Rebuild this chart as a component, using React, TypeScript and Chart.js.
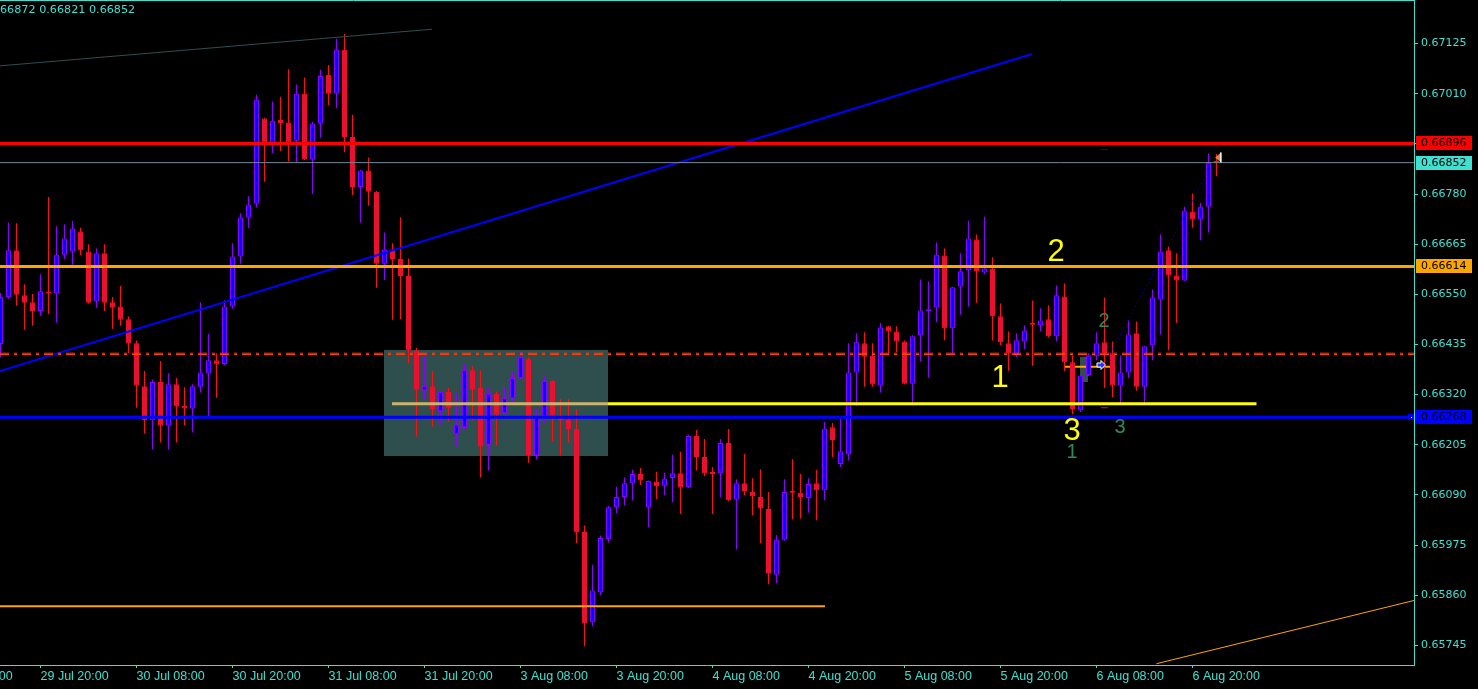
import React, { useEffect, useRef } from 'react';
import { Chart, registerables } from 'chart.js';

Chart.register(...registerables);

// ---- H1 candles, index 0..152 (oldest -> newest) ----
const opens = [
  0.66436, 0.66544, 0.66651, 0.66548, 0.66532, 0.66512, 0.66553, 0.66552, 0.66641, 0.66648,
  0.66694, 0.66648, 0.66534, 0.66644, 0.66532, 0.66522, 0.66493, 0.66438, 0.66339, 0.66261,
  0.66349, 0.66249, 0.66344, 0.66294, 0.66288, 0.66338, 0.66369, 0.66399, 0.66390, 0.66522,
  0.66637, 0.66726, 0.66758, 0.66953, 0.66898, 0.66950, 0.66944, 0.66902, 0.67010, 0.66859,
  0.66941, 0.67053, 0.67010, 0.67111, 0.66911, 0.66796, 0.66834, 0.66785, 0.66620, 0.66653,
  0.66631, 0.66592, 0.66421, 0.66330, 0.66339, 0.66282, 0.66326, 0.66229, 0.66245, 0.66376,
  0.66335, 0.66205, 0.66322, 0.66278, 0.66312, 0.66358, 0.66401, 0.66181, 0.66270, 0.66351,
  0.66265, 0.66262, 0.66241, 0.66005, 0.65798, 0.65867, 0.65989, 0.66062, 0.66085, 0.66117,
  0.66138, 0.66062, 0.66120, 0.66111, 0.66129, 0.66140, 0.66108, 0.66225, 0.66177, 0.66140,
  0.66140, 0.66209, 0.66079, 0.66117, 0.66097, 0.66085, 0.66058, 0.65907, 0.65987, 0.66099,
  0.66095, 0.66083, 0.66117, 0.66101, 0.66245, 0.66161, 0.66183, 0.66371, 0.66438, 0.66410,
  0.66341, 0.66477, 0.66465, 0.66442, 0.66345, 0.66456, 0.66511, 0.66520, 0.66639, 0.66472,
  0.66568, 0.66605, 0.66676, 0.66600, 0.66609, 0.66500, 0.66438, 0.66413, 0.66442, 0.66482,
  0.66479, 0.66493, 0.66454, 0.66545, 0.66394, 0.66284, 0.66365, 0.66408, 0.66440, 0.66415,
  0.66341, 0.66371, 0.66461, 0.66338, 0.66433, 0.66538, 0.66651, 0.66593, 0.66582, 0.66740,
  0.66722, 0.66751, 0.66856,
];
const highs = [
  0.66553, 0.66715, 0.66713, 0.66573, 0.66551, 0.66596, 0.66773, 0.66706, 0.66711, 0.66718,
  0.66703, 0.66665, 0.66655, 0.66665, 0.66544, 0.66569, 0.66499, 0.66444, 0.66374, 0.66355,
  0.66397, 0.66369, 0.66358, 0.66337, 0.66344, 0.66532, 0.66459, 0.66415, 0.66536, 0.66667,
  0.66736, 0.66775, 0.67008, 0.66955, 0.66992, 0.67003, 0.67066, 0.67031, 0.67047, 0.66946,
  0.67065, 0.67076, 0.67136, 0.67147, 0.66962, 0.66835, 0.66864, 0.66787, 0.66692, 0.66667,
  0.66727, 0.66632, 0.66427, 0.66415, 0.66374, 0.66327, 0.66335, 0.66323, 0.66392, 0.66385,
  0.66376, 0.66336, 0.66327, 0.66336, 0.66374, 0.66419, 0.66406, 0.66288, 0.66362, 0.66353,
  0.66310, 0.66310, 0.66287, 0.66020, 0.65930, 0.65997, 0.66065, 0.66109, 0.66130, 0.66148,
  0.66152, 0.66123, 0.66143, 0.66141, 0.66182, 0.66189, 0.66228, 0.66239, 0.66218, 0.66154,
  0.66218, 0.66241, 0.66126, 0.66184, 0.66128, 0.66149, 0.66097, 0.65998, 0.66126, 0.66172,
  0.66138, 0.66128, 0.66147, 0.66257, 0.66255, 0.66264, 0.66438, 0.66461, 0.66463, 0.66438,
  0.66484, 0.66478, 0.66477, 0.66444, 0.66456, 0.66584, 0.66580, 0.66669, 0.66655, 0.66567,
  0.66644, 0.66719, 0.66687, 0.66728, 0.66635, 0.66529, 0.66465, 0.66461, 0.66479, 0.66536,
  0.66518, 0.66525, 0.66570, 0.66575, 0.66410, 0.66365, 0.66415, 0.66463, 0.66543, 0.66442,
  0.66410, 0.66490, 0.66488, 0.66432, 0.66561, 0.66687, 0.66660, 0.66644, 0.66751, 0.66781,
  0.66760, 0.66873, 0.66872,
];
const lows = [
  0.66405, 0.66540, 0.66524, 0.66469, 0.66478, 0.66501, 0.66505, 0.66485, 0.66631, 0.66618,
  0.66640, 0.66529, 0.66519, 0.66512, 0.66471, 0.66478, 0.66415, 0.66290, 0.66231, 0.66194,
  0.66210, 0.66194, 0.66210, 0.66249, 0.66233, 0.66325, 0.66270, 0.66313, 0.66388, 0.66517,
  0.66620, 0.66702, 0.66749, 0.66808, 0.66874, 0.66879, 0.66855, 0.66853, 0.66858, 0.66780,
  0.66909, 0.66984, 0.66977, 0.66876, 0.66778, 0.66715, 0.66753, 0.66565, 0.66583, 0.66492,
  0.66493, 0.66392, 0.66224, 0.66310, 0.66247, 0.66251, 0.66258, 0.66201, 0.66241, 0.66261,
  0.66130, 0.66146, 0.66203, 0.66276, 0.66295, 0.66356, 0.66164, 0.66172, 0.66256, 0.66213,
  0.66181, 0.66210, 0.65979, 0.65743, 0.65789, 0.65860, 0.65981, 0.66048, 0.66066, 0.66077,
  0.66113, 0.66016, 0.66080, 0.66089, 0.66073, 0.66046, 0.66106, 0.66146, 0.66133, 0.66046,
  0.66085, 0.66076, 0.65965, 0.66090, 0.66043, 0.65979, 0.65885, 0.65888, 0.65985, 0.66034,
  0.66036, 0.66049, 0.66032, 0.66078, 0.66177, 0.66154, 0.66169, 0.66295, 0.66338, 0.66338,
  0.66325, 0.66415, 0.66417, 0.66343, 0.66295, 0.66396, 0.66359, 0.66486, 0.66445, 0.66415,
  0.66503, 0.66522, 0.66531, 0.66596, 0.66444, 0.66433, 0.66375, 0.66406, 0.66424, 0.66386,
  0.66465, 0.66451, 0.66442, 0.66374, 0.66275, 0.66280, 0.66363, 0.66399, 0.66335, 0.66314,
  0.66300, 0.66358, 0.66329, 0.66296, 0.66399, 0.66458, 0.66422, 0.66484, 0.66580, 0.66703,
  0.66674, 0.66692, 0.66821,
];
const closes = [
  0.66544, 0.66651, 0.66549, 0.66531, 0.66512, 0.66557, 0.66552, 0.66641, 0.66678, 0.66701,
  0.66651, 0.66531, 0.66644, 0.66531, 0.66519, 0.66492, 0.66438, 0.66341, 0.66261, 0.66349,
  0.66249, 0.66344, 0.66293, 0.66288, 0.66339, 0.66371, 0.66399, 0.66389, 0.66522, 0.66637,
  0.66726, 0.66756, 0.66996, 0.66898, 0.66948, 0.66943, 0.66898, 0.67010, 0.66860, 0.66941,
  0.67051, 0.67010, 0.67111, 0.66911, 0.66796, 0.66834, 0.66785, 0.66620, 0.66653, 0.66631,
  0.66592, 0.66421, 0.66332, 0.66339, 0.66287, 0.66326, 0.66289, 0.66251, 0.66376, 0.66332,
  0.66201, 0.66322, 0.66274, 0.66312, 0.66358, 0.66406, 0.66181, 0.66270, 0.66351, 0.66272,
  0.66261, 0.66241, 0.66004, 0.65796, 0.65871, 0.65991, 0.66062, 0.66085, 0.66117, 0.66138,
  0.66123, 0.66122, 0.66110, 0.66127, 0.66140, 0.66107, 0.66225, 0.66177, 0.66140, 0.66138,
  0.66209, 0.66078, 0.66117, 0.66099, 0.66087, 0.66059, 0.65909, 0.65987, 0.66097, 0.66095,
  0.66085, 0.66115, 0.66101, 0.66242, 0.66216, 0.66190, 0.66371, 0.66440, 0.66407, 0.66343,
  0.66474, 0.66465, 0.66442, 0.66345, 0.66454, 0.66513, 0.66516, 0.66641, 0.66472, 0.66566,
  0.66603, 0.66678, 0.66603, 0.66609, 0.66500, 0.66440, 0.66415, 0.66445, 0.66467, 0.66480,
  0.66490, 0.66454, 0.66548, 0.66394, 0.66287, 0.66364, 0.66410, 0.66438, 0.66415, 0.66341,
  0.66371, 0.66458, 0.66338, 0.66431, 0.66543, 0.66648, 0.66593, 0.66582, 0.66742, 0.66722,
  0.66751, 0.66852, 0.66852,
];

// ---- axis ticks ----
const xTickPos = [5, 17, 29, 41, 53, 65, 77, 89, 101, 113, 125, 137, 149];
const xTickLabels = [
  '29 Jul 20:00', '30 Jul 08:00', '30 Jul 20:00', '31 Jul 08:00', '31 Jul 20:00',
  '3 Aug 08:00', '3 Aug 20:00', '4 Aug 08:00', '4 Aug 20:00', '5 Aug 08:00',
  '5 Aug 20:00', '6 Aug 08:00', '6 Aug 20:00',
];
const prevTickPos = -7;
const prevTickLabel = '29 Jul 08:00';
const yTickValues = [
  0.67125, 0.6701, 0.66895, 0.6678, 0.66665, 0.6655, 0.66435,
  0.6632, 0.66205, 0.6609, 0.65975, 0.6586, 0.65745,
];

// ---- horizontal levels ----
const levelResist = 0.66896;
const levelBid = 0.66852;
const levelOrange = 0.66614;
const levelBlue = 0.66268;
const levelDashA = 0.66415;
const levelDashB = 0.66412;
const levelYellow = 0.66299;
const levelLowOrange = 0.65835;

// axis price tags
const tagPrices = [0.66896, 0.66852, 0.66614, 0.66268];
const tagColors = ['#FF0000', '#40E0D0', '#FFA500', '#0000FF'];

// trend lines [x0, p0, x1, p1]
const blueTrend = [-0.0625, 0.66374, 128.94, 0.67101];
const slateTrend = [-0.0625, 0.67074, 53.94, 0.67158];
const orangeTrend = [144.5, 0.65703, 176.69, 0.65848];
const dottedTrend = [138.27, 0.664, 151.81, 0.66861];

// rectangles [x0, x1, pTop, pBottom]
const zoneBox = [47.94, 75.94, 0.66422, 0.6618];
const smallBox = [134.94, 135.94, 0.66406, 0.66349];

// wave labels
const waveText = ['2', '1', '3', '1', '2', '3'];
const waveX = [131.94, 124.94, 133.94, 133.94, 137.94, 139.94];
const waveP = [0.66647, 0.66356, 0.66235, 0.66187, 0.66487, 0.66244];
const waveBig = [true, true, true, false, false, false];

const header = '66872 0.66821 0.66852';

const X_MIN = -0.0625;
const X_MAX = X_MIN + 1414 / 8;
const Y_MIN = 0.657;
const Y_MAX = 0.67225;

const AXIS = '#40E0D0';
const BULL_FILL = '#0000FF';
const BULL_LINE = '#8B00FF';
const BEAR_FILL = '#EC1030';
const BEAR_WICK = '#FF1010';
const DATE_FONT = '"Liberation Sans Narrow", "Liberation Sans", sans-serif';

const seg = (x0: number, p0: number, x1: number, p1: number) => [
  { x: x0, y: p0 },
  { x: x1, y: p1 },
];

const lineDs = (data: any[], color: string, width: number, order = 1, dash: number[] = []) => ({
  type: 'line' as const,
  data,
  borderColor: color,
  borderWidth: width,
  borderDash: dash,
  pointRadius: 0,
  fill: false,
  tension: 0,
  order,
});

export default function App() {
  const ref = useRef<HTMLCanvasElement>(null);

  useEffect(() => {
    document.body.style.margin = '0';
    document.body.style.background = '#000';
    const canvas = ref.current!;
    const idx = opens.map((_, i) => i);
    const bull = idx.map((i) => closes[i] > opens[i]);

    const drawPlugin = {
      id: 'mtDecor',
      beforeDraw(chart: any) {
        const c = chart.ctx;
        c.save();
        c.fillStyle = '#000';
        c.fillRect(0, 0, chart.width, chart.height);
        c.restore();
      },
      beforeDatasetsDraw(chart: any) {
        const c = chart.ctx;
        const xs = chart.scales.x;
        const ys = chart.scales.y;
        const a = chart.chartArea;
        c.save();
        c.beginPath();
        c.rect(a.left, a.top, a.right - a.left, a.bottom - a.top);
        c.clip();
        c.fillStyle = '#2F4F4F';
        for (const b of [zoneBox, smallBox]) {
          const x0 = xs.getPixelForValue(b[0]);
          const x1 = xs.getPixelForValue(b[1]);
          const y0 = ys.getPixelForValue(b[2]);
          const y1 = ys.getPixelForValue(b[3]);
          c.fillRect(Math.round(x0), Math.round(y0), Math.round(x1 - x0), Math.round(y1 - y0));
        }
        c.restore();
      },
      afterDatasetsDraw(chart: any) {
        const c = chart.ctx;
        const xs = chart.scales.x;
        const ys = chart.scales.y;
        c.save();
        c.textAlign = 'center';
        c.textBaseline = 'middle';
        for (let i = 0; i < waveText.length; i++) {
          c.font = waveBig[i] ? '31px "Liberation Sans", Arial, sans-serif' : '20px "Liberation Sans", Arial, sans-serif';
          c.fillStyle = waveBig[i] ? '#FFFF00' : '#2E8B57';
          c.fillText(waveText[i], xs.getPixelForValue(waveX[i]), ys.getPixelForValue(waveP[i]));
        }
        // arrow marker
        const ax = xs.getPixelForValue(137.56);
        const ay = ys.getPixelForValue(0.66388);
        c.beginPath();
        c.moveTo(ax - 4, ay - 2);
        c.lineTo(ax, ay - 2);
        c.lineTo(ax, ay - 4.5);
        c.lineTo(ax + 4.5, ay);
        c.lineTo(ax, ay + 4.5);
        c.lineTo(ax, ay + 2);
        c.lineTo(ax - 4, ay + 2);
        c.closePath();
        c.fillStyle = '#1E3CFF';
        c.fill();
        c.strokeStyle = '#FFFFFF';
        c.lineWidth = 1;
        c.stroke();
        // last price triangle
        const tx = xs.getPixelForValue(152.2);
        const ty = ys.getPixelForValue(0.66864);
        c.beginPath();
        c.moveTo(tx - 3, ty);
        c.lineTo(tx + 3, ty - 5);
        c.lineTo(tx + 3, ty + 5);
        c.closePath();
        c.fillStyle = '#D09040';
        c.fill();
        c.fillStyle = '#FFFFFF';
        c.fillRect(tx + 2, ty - 5, 1.5, 10);
        c.restore();
      },
      afterDraw(chart: any) {
        const c = chart.ctx;
        const xs = chart.scales.x;
        const ys = chart.scales.y;
        const a = chart.chartArea;
        c.save();
        // top frame line
        c.strokeStyle = AXIS;
        c.lineWidth = 1;
        c.beginPath();
        c.moveTo(0, 0.5);
        c.lineTo(a.right, 0.5);
        c.stroke();
        // header
        c.font = '11.2px "DejaVu Sans", sans-serif';
        c.fillStyle = AXIS;
        c.textAlign = 'left';
        c.textBaseline = 'middle';
        c.fillText(header, 0, 10);
        // partial label on the left
        c.font = '12.5px ' + DATE_FONT;
        c.fillText(prevTickLabel, xs.getPixelForValue(prevTickPos), 676.5);
        // price tags
        c.font = '11px "DejaVu Sans", sans-serif';
        for (let i = 0; i < tagPrices.length; i++) {
          const y = Math.round(ys.getPixelForValue(tagPrices[i]));
          c.fillStyle = tagColors[i];
          c.fillRect(a.right + 2, y - 7, 56, 14);
          c.fillStyle = '#000';
          c.fillText(tagPrices[i].toFixed(5), a.right + 7, y + 0.5);
        }
        // anchor square of the blue level
        const by = Math.round(ys.getPixelForValue(levelBlue));
        c.fillStyle = '#0000FF';
        c.fillRect(a.right - 6, by - 3, 6, 6);
        c.fillStyle = '#FFFFFF';
        c.fillRect(a.right - 3, by, 1, 1);
        c.restore();
      },
    };

    const chart = new Chart(canvas, {
      type: 'bar',
      data: {
        datasets: [
          lineDs(seg(X_MIN, levelResist, X_MAX, levelResist), '#FF0000', 3, 1),
          lineDs(seg(X_MIN, levelBid, X_MAX, levelBid), '#778899', 1, 1),
          lineDs(seg(X_MIN, levelOrange, X_MAX, levelOrange), '#FFA500', 3, 1),
          lineDs(seg(X_MIN, levelBlue, X_MAX, levelBlue), '#0000FF', 3, 1),
          lineDs(seg(X_MIN, levelDashA, X_MAX, levelDashA), '#FF4010', 1, 1, [9, 5, 3, 5]),
          lineDs(seg(X_MIN, levelDashB, X_MAX, levelDashB), '#FF4010', 1, 1, [9, 5, 3, 5]),
          lineDs(seg(48.94, levelYellow, 75.94, levelYellow), '#C8B46E', 3, 1),
          lineDs(seg(75.94, levelYellow, 157.0, levelYellow), '#FFFF00', 3, 1),
          lineDs(seg(X_MIN, levelLowOrange, 103.06, levelLowOrange), '#FFA500', 2, 1),
          lineDs(seg(blueTrend[0], blueTrend[1], blueTrend[2], blueTrend[3]), '#0000FF', 2, 1),
          lineDs(seg(slateTrend[0], slateTrend[1], slateTrend[2], slateTrend[3]), '#2F4F4F', 1, 1),
          lineDs(seg(orangeTrend[0], orangeTrend[1], orangeTrend[2], orangeTrend[3]), '#FFA500', 1, 1),
          lineDs(seg(dottedTrend[0], dottedTrend[1], dottedTrend[2], dottedTrend[3]), '#0000FF', 1, 1, [1, 3]),
          lineDs(seg(137.56, 0.66882, 138.44, 0.66882), '#0000FF', 1, 1),
          lineDs(seg(137.56, 0.6629, 138.44, 0.6629), '#FF0000', 1, 1),
          lineDs(seg(133.06, 0.66384, 138.69, 0.66384), '#FFA500', 2, 9),
          {
            type: 'bar' as const,
            data: idx.map((i) => ({ x: i, y: [lows[i], highs[i]] })) as any,
            backgroundColor: bull.map((b) => (b ? BULL_LINE : BEAR_WICK)),
            borderWidth: 0,
            maxBarThickness: 1,
            grouped: false,
            inflateAmount: 0,
            order: 6,
          },
          {
            type: 'bar' as const,
            data: idx.map((i) => ({ x: i, y: [opens[i], closes[i]] })) as any,
            backgroundColor: bull.map((b) => (b ? BULL_FILL : BEAR_FILL)),
            borderColor: bull.map((b) => (b ? BULL_LINE : BEAR_FILL)),
            borderWidth: 1,
            borderSkipped: false,
            maxBarThickness: 5,
            minBarLength: 2,
            grouped: false,
            inflateAmount: 0,
            order: 5,
          },
        ] as any,
      },
      options: {
        responsive: false,
        animation: false,
        devicePixelRatio: 1,
        events: [],
        layout: { padding: 0 },
        plugins: { legend: { display: false }, tooltip: { enabled: false } },
        scales: {
          x: {
            type: 'linear',
            min: X_MIN,
            max: X_MAX,
            offset: false,
            afterBuildTicks: (s: any) => {
              s.ticks = xTickPos.map((v) => ({ value: v }));
            },
            afterFit: (s: any) => {
              s.height = 24;
              s.paddingLeft = 0;
              s.paddingRight = 0;
            },
            grid: { drawOnChartArea: false, drawTicks: true, tickLength: 3, color: AXIS, offset: false },
            border: { display: true, color: AXIS, width: 1 },
            ticks: {
              color: AXIS,
              font: { family: DATE_FONT, size: 12.5 },
              padding: 1,
              align: 'start',
              maxRotation: 0,
              autoSkip: false,
              callback: (_v: any, i: number) => xTickLabels[i],
            },
          },
          y: {
            type: 'linear',
            position: 'right',
            min: Y_MIN,
            max: Y_MAX,
            afterBuildTicks: (s: any) => {
              s.ticks = yTickValues.map((v) => ({ value: v }));
            },
            afterFit: (s: any) => {
              s.width = 64;
              s.paddingTop = 0;
              s.paddingBottom = 0;
            },
            grid: { drawOnChartArea: false, drawTicks: true, tickLength: 4, color: AXIS },
            border: { display: true, color: AXIS, width: 1 },
            ticks: {
              color: AXIS,
              font: { family: '"DejaVu Sans", sans-serif', size: 11 },
              padding: 3,
              autoSkip: false,
              callback: (v: any) => Number(v).toFixed(5),
            },
          },
        },
      } as any,
      plugins: [drawPlugin],
    });

    return () => chart.destroy();
  }, []);

  return (
    <div style={{ width: 1478, height: 689, background: '#000' }}>
      <canvas ref={ref} width={1478} height={689} style={{ display: 'block' }} />
    </div>
  );
}
